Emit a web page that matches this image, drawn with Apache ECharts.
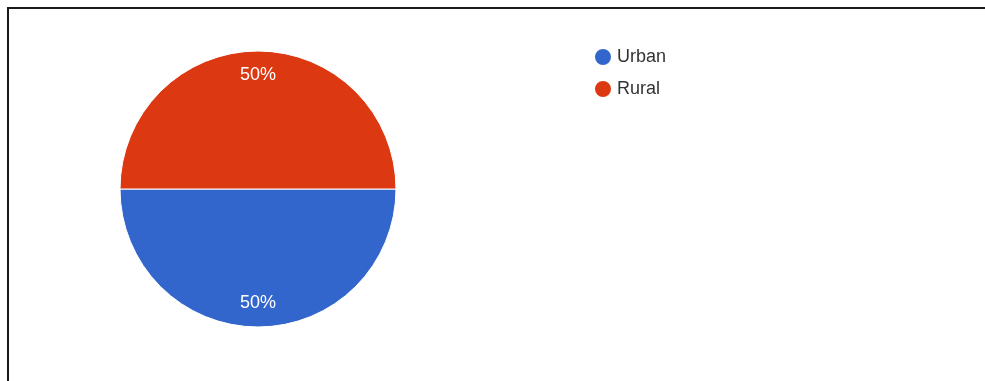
<!DOCTYPE html>
<html>
<head>
<meta charset="utf-8">
<script src="https://cdn.jsdelivr.net/npm/echarts@6/dist/echarts.min.js"></script>
<style>
  html, body { margin: 0; padding: 0; background: #fff; }
  #frame { position: absolute; left: 0; top: 0; width: 985px; height: 381px; }
  #edge { position: absolute; left: 7px; top: 7px; right: 0; bottom: 0;
          border-top: 2px solid #1a1a1a; border-left: 2px solid #1a1a1a; pointer-events: none; }
  #chart { position: absolute; left: 0; top: 0; width: 985px; height: 381px; }
</style>
</head>
<body>
<div id="frame">
  <div id="chart"></div>
  <div id="edge"></div>
</div>
<script>
// Share of respondents by area
const categories = ['Urban', 'Rural'];
const shares = [50, 50];
const palette = ['#3366CC', '#DC3912'];

const pieData = categories.map((name, i) => ({ name, value: shares[i] }));
const FONT = '"Liberation Sans", Arial, sans-serif';

const chart = echarts.init(document.getElementById('chart'), null, { renderer: 'canvas' });
chart.setOption({
  animation: false,
  color: palette,
  legend: {
    orient: 'vertical',
    left: 588,
    top: 42,
    icon: 'circle',
    itemWidth: 18,
    itemHeight: 18,
    itemGap: 12,
    data: categories,
    textStyle: { fontFamily: FONT, fontSize: 18, color: '#333' }
  },
  series: [
    {
      type: 'pie',
      center: [258, 189],
      radius: [0, 138],
      startAngle: 0,
      clockwise: true,
      silent: true,
      label: { show: false },
      labelLine: { show: false },
      itemStyle: { borderColor: '#fff', borderWidth: 1 },
      data: pieData
    },
    {
      // transparent ring used only to place the percentage labels
      type: 'pie',
      center: [258, 189],
      radius: [84, 138],
      startAngle: 0,
      clockwise: true,
      silent: true,
      legendHoverLink: false,
      itemStyle: { color: 'rgba(0,0,0,0)' },
      label: {
        show: true,
        position: 'inside',
        formatter: '{d}%',
        fontFamily: FONT,
        fontSize: 18,
        color: '#fff'
      },
      labelLine: { show: false },
      data: pieData
    }
  ]
});
</script>
</body>
</html>
